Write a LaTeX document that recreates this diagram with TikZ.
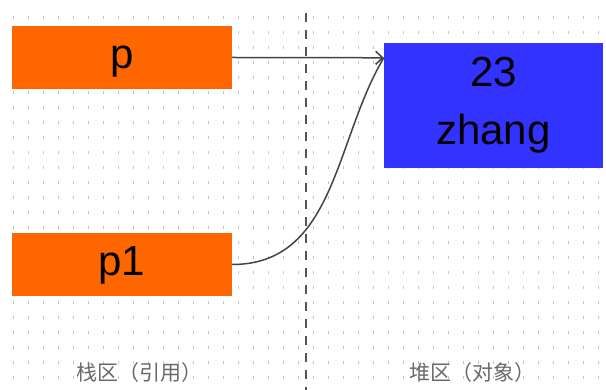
\documentclass[tikz,border=0pt]{standalone}
\usepackage{fontspec}
\setmainfont{Liberation Sans}
\newfontfamily\cjkfont{Noto Sans CJK SC}
\usetikzlibrary{arrows.meta,calc}
\definecolor{boxorange}{HTML}{FF6600}
\definecolor{boxblue}{HTML}{3333FF}
\definecolor{gridgray}{HTML}{C4C4C4}
\definecolor{linegray}{HTML}{444444}
\definecolor{dashgray}{HTML}{555555}
\definecolor{labelgray}{HTML}{6A6A6A}
\tikzset{
  refbox/.style={fill=boxorange, draw=none, minimum width=220pt, minimum height=63pt,
    inner sep=0pt, font=\fontsize{42}{50}\selectfont, text height=31pt, text depth=8pt},
  objbox/.style={fill=boxblue, draw=none, minimum width=219pt, minimum height=125pt,
    inner sep=0pt, align=center, font=\fontsize{42}{58}\selectfont},
  link/.style={draw=linegray, line width=1.5pt},
  arealabel/.style={text=labelgray, font=\cjkfont\fontsize{21}{24}\selectfont, inner sep=0pt},
  divider/.style={draw=dashgray, line width=2.5pt, dash pattern=on 9pt off 8pt}
}
\begin{document}
\begin{tikzpicture}[x=1pt,y=1pt]
  \useasboundingbox (0,0) rectangle (606,390);
  \fill[white] (0,0) rectangle (606,390);
  % dotted grid
  \foreach \i in {0,...,39}{
    \foreach \j in {0,...,24}{
      \fill[gridgray] ({13+15*\i-0.5},{390-18-15*\j-1.5}) rectangle ++(1,3);
    }
  }
  % divider
  \coordinate (dtop) at (306,377);
  \coordinate (dbot) at (306,0);
  \draw[divider] (dtop) -- (dbot);
  % boxes
  \node[refbox] (p) at (122,332.5) {p};
  \node[refbox] (p1) at (122,125.5) {p1};
  \node[objbox] (heap) at (493.5,284.5) {23\\zhang};
  \coordinate (tip) at ($(heap.north west)+(0,-15)$);
  % connectors
  \draw[link, -{Straight Barb[length=7pt,width=13pt]}] (p.east) -- (tip);
  \draw[link] (p1.east) .. controls +(103,0) and +(-49,-82) .. (tip);
  % labels
  \node[arealabel] (stack) at (139.5,17.5) {栈区（引用）};
  \node[arealabel] (heaplbl) at (472,17.5) {堆区（对象）};
\end{tikzpicture}
\end{document}
